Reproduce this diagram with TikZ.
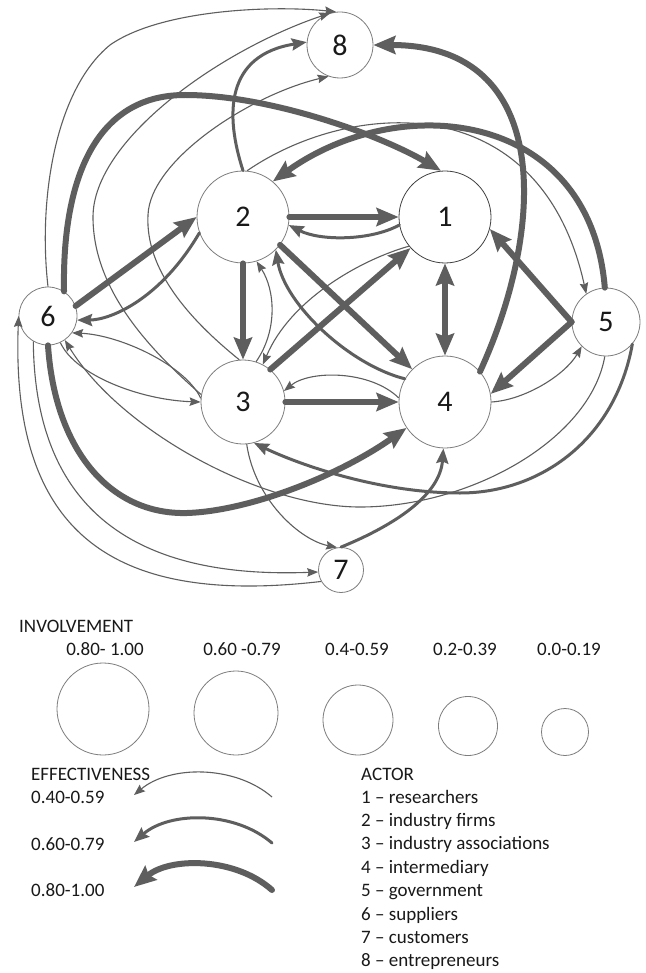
\documentclass[tikz,border=0pt]{standalone}
\usepackage{fontspec}
\setmainfont{Carlito}
\usetikzlibrary{arrows.meta}
\definecolor{edgec}{RGB}{94,94,94}
\definecolor{ringc}{RGB}{125,125,125}
\definecolor{txtc}{RGB}{25,25,25}
\newcommand\legfont{\fontsize{19}{23}\selectfont}
\newcommand\nodefont{\fontsize{30}{30}\selectfont}
\begin{document}
\begin{tikzpicture}[x=1pt,y=-1pt,
  actor/.style={circle,draw=ringc,line width=0.8pt,fill=white,inner sep=0pt,minimum size=#1,font=\nodefont,text=txtc},
  legc/.style={circle,draw=ringc,line width=0.8pt,inner sep=0pt,minimum size=#1},
  lbl/.style={font=\legfont,text=txtc,inner sep=0pt},
  lwa/.style={draw=edgec,line width=1.1pt,-{Stealth[length=11pt,width=8.5pt,inset=1.5pt]}},
  lwb/.style={draw=edgec,line width=3pt,line cap=round,-{Stealth[length=15pt,width=12pt,inset=2pt]}},
  lwc/.style={draw=edgec,line width=6pt,line cap=round,-{Stealth[length=22pt,width=18pt,inset=3pt]}},
  both/.style={{Stealth[length=22pt,width=18pt,inset=3pt]}-{Stealth[length=22pt,width=18pt,inset=3pt]}}
]
\useasboundingbox (0,0) rectangle (645,973);
\fill[white] (0,0) rectangle (645,973);

% ---------- actors ----------
\node[actor=66pt] (n8) at (340,45) {8};
\node[actor=92pt] (n2) at (243,217) {2};
\node[actor=92pt,draw=black!75] (n1) at (445,217) {1};
\node[actor=58pt] (n6) at (48,316) {6};
\node[actor=68pt] (n5) at (606,322) {5};
\node[actor=84pt] (n3) at (243,402) {3};
\node[actor=92pt] (n4) at (445,402) {4};
\node[actor=45pt] (n7) at (341,570) {7};

% ---------- thick connectors (0.80-1.00) ----------
\draw[lwc] (n6.57) .. controls (62,180) and (95,95) .. (185,95) .. controls (270,95) and (380,135) .. (n1.95);
\draw[lwc] (n5.92) .. controls (590,110) and (400,90) .. (n2.50);
\draw[lwc] (n4.41) .. controls (545,230) and (555,45) .. (n8.0);
\draw[lwc] (n2.0) -- (n1.180);
\draw[lwc] (n2.270) -- (n3.90);
\draw[lwc] (n2.-37) -- (n4.135);
\draw[lwc] (n3.50) -- (n1.222);
\draw[lwc,both] (n1.270) -- (n4.90);
\draw[lwc] (n3.0) -- (n4.180);
\draw[lwc] (n5.180) -- (n1.-15);
\draw[lwc] (n5.180) -- (n4.10);
\draw[lwc] (n6.20) -- (n2.180);
\draw[lwc] (n6.-90) .. controls (55,450) and (110,515) .. (187,513) .. controls (250,511) and (340,475) .. (n4.214);

% ---------- medium connectors (0.60-0.79) ----------
\draw[lwb] (n2.90) .. controls (225,115) and (225,55) .. (n8.175);
\draw[lwb] (n1.190) .. controls (370,241) and (320,241) .. (n2.-10);
\draw[lwb] (n4.150) .. controls (350,365) and (285,305) .. (n2.-45);
\draw[lwb] (n2.200) .. controls (160,300) and (110,320) .. (n6.-8);
\draw[lwb] (n5.-40) .. controls (615,440) and (540,493) .. (460,493) .. controls (380,493) and (300,465) .. (n3.-75);
\draw[lwb] (n7.90) .. controls (395,525) and (440,495) .. (n4.-92);

% ---------- thin connectors (0.40-0.59) ----------
\draw[lwa] (n6.90) .. controls (38,200) and (55,90) .. (110,45) .. controls (160,10) and (270,5) .. (n8.97);
\draw[lwa] (n3.170) .. controls (150,350) and (93,290) .. (93,217) .. controls (93,140) and (220,50) .. (n8.107);
\draw[lwa] (n3.95) .. controls (190,320) and (145,270) .. (148,215) .. controls (150,160) and (250,95) .. (n8.-110);
\draw[lwa] (n2.85) .. controls (350,100) and (540,85) .. (n5.125);
\draw[lwa] (n3.72) .. controls (278,330) and (275,290) .. (n2.-73);
\draw[lwa] (n1.219) .. controls (360,260) and (290,300) .. (n3.62);
\draw[lwa] (n4.175) .. controls (370,370) and (310,370) .. (n3.15);
\draw[lwa] (n4.0) .. controls (525,400) and (565,375) .. (n5.225);
\draw[lwa] (n6.-65) .. controls (75,375) and (140,400) .. (n3.180);
\draw[lwa] (n3.175) .. controls (185,365) and (120,335) .. (n6.-35);
\draw[lwa] (n5.-92) .. controls (590,440) and (470,507) .. (360,507) .. controls (260,507) and (120,430) .. (n6.-55);
\draw[lwa] (n6.240) .. controls (35,530) and (160,578) .. (n7.185);
\draw[lwa] (n7.210) .. controls (120,605) and (10,540) .. (n6.180);
\draw[lwa] (n3.-85) .. controls (255,500) and (300,540) .. (n7.100);

% ---------- legend: involvement ----------
\node[lbl,anchor=base west] (tinv) at (19,632.7) {INVOLVEMENT};
\node[lbl,anchor=base] (r1) at (105,655.7) {0.80- 1.00};
\node[lbl,anchor=base] (r2) at (242,655.7) {0.60 -0.79};
\node[lbl,anchor=base] (r3) at (357,655.7) {0.4-0.59};
\node[lbl,anchor=base] (r4) at (465,655.7) {0.2-0.39};
\node[lbl,anchor=base] (r5) at (569,655.7) {0.0-0.19};
\node[legc=92pt] (c1) at (103,709) {};
\node[legc=84pt] (c2) at (236,713) {};
\node[legc=70pt] (c3) at (358,720) {};
\node[legc=59pt] (c4) at (468,726) {};
\node[legc=47pt] (c5) at (565,732) {};

% ---------- legend: effectiveness ----------
\node[lbl,anchor=base west] (teff) at (31,780) {EFFECTIVENESS};
\node[lbl,anchor=base west] (e1) at (31,803) {0.40-0.59};
\node[lbl,anchor=base west] (e2) at (31,850) {0.60-0.79};
\node[lbl,anchor=base west] (e3) at (31,896.7) {0.80-1.00};
\coordinate (a1s) at (272,797);
\coordinate (a1e) at (134,795);
\coordinate (a2s) at (272,843);
\coordinate (a2e) at (134,842);
\coordinate (a3s) at (272,890);
\coordinate (a3e) at (134,887);
\draw[lwa] (a1s) .. controls (235,765) and (170,765) .. (a1e);
\draw[lwb] (a2s) .. controls (235,811) and (170,811) .. (a2e);
\draw[lwc] (a3s) .. controls (235,857) and (170,857) .. (a3e);

% ---------- legend: actors ----------
\node[lbl,anchor=base west] (tact) at (361,780) {ACTOR};
\node[lbl,anchor=base west] (k1) at (361,803) {1 – researchers};
\node[lbl,anchor=base west] (k2) at (361,826.4) {2 – industry firms};
\node[lbl,anchor=base west] (k3) at (361,849.8) {3 – industry associations};
\node[lbl,anchor=base west] (k4) at (361,873.2) {4 – intermediary};
\node[lbl,anchor=base west] (k5) at (361,896.6) {5 – government};
\node[lbl,anchor=base west] (k6) at (361,920) {6 – suppliers};
\node[lbl,anchor=base west] (k7) at (361,943.4) {7 – customers};
\node[lbl,anchor=base west] (k8) at (361,966.8) {8 – entrepreneurs};
\end{tikzpicture}
\end{document}
